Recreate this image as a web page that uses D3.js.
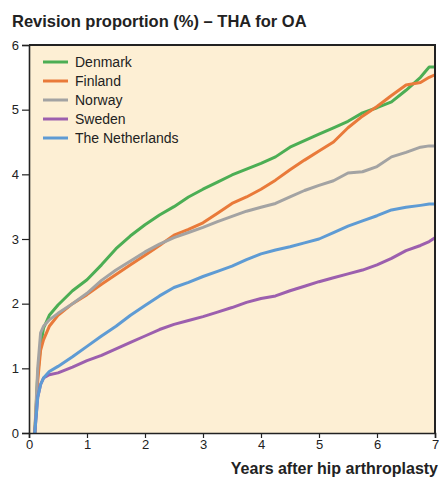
<!DOCTYPE html>
<html><head><meta charset="utf-8">
<script src="https://cdn.jsdelivr.net/npm/d3@7"></script>
<style>
html,body{margin:0;padding:0;background:#fff;}
svg{display:block;font-family:"Liberation Sans",Arial,Helvetica,sans-serif;}
</style></head>
<body>
<svg id="chart" width="439" height="478"></svg>
<script>
const years = [0.1,0.15,0.2,0.25,0.35,0.5,0.75,1,1.25,1.5,1.75,2,2.25,2.5,2.75,3,3.25,3.5,3.75,4,4.25,4.5,4.75,5,5.25,5.5,5.75,6,6.25,6.5,6.75,6.9,7];
const denmark     = [0,0.9,1.35,1.62,1.82,1.98,2.2,2.37,2.6,2.85,3.05,3.22,3.37,3.5,3.65,3.77,3.88,3.99,4.08,4.17,4.27,4.42,4.52,4.62,4.72,4.82,4.95,5.03,5.12,5.3,5.5,5.66,5.66];
const finland     = [0,0.8,1.28,1.44,1.65,1.82,2.0,2.14,2.3,2.45,2.6,2.75,2.9,3.06,3.15,3.25,3.4,3.55,3.65,3.77,3.91,4.07,4.22,4.36,4.5,4.72,4.9,5.05,5.22,5.38,5.42,5.5,5.54];
const norway      = [0,1.0,1.55,1.65,1.75,1.85,2.0,2.16,2.36,2.52,2.66,2.8,2.92,3.02,3.1,3.18,3.27,3.35,3.43,3.49,3.55,3.65,3.75,3.83,3.9,4.02,4.04,4.12,4.27,4.34,4.42,4.44,4.44];
const sweden      = [0,0.55,0.75,0.85,0.9,0.93,1.02,1.12,1.2,1.3,1.4,1.5,1.6,1.68,1.74,1.8,1.87,1.94,2.02,2.08,2.12,2.2,2.27,2.34,2.4,2.46,2.52,2.6,2.7,2.82,2.9,2.96,3.02];
const netherlands = [0,0.55,0.75,0.85,0.95,1.03,1.18,1.34,1.5,1.65,1.82,1.97,2.12,2.25,2.33,2.42,2.5,2.58,2.68,2.77,2.83,2.88,2.94,3.0,3.1,3.2,3.28,3.36,3.45,3.49,3.52,3.54,3.54];
const seriesNames = ["Denmark","Finland","Norway","Sweden","The Netherlands"];
const seriesValues = [denmark, finland, norway, sweden, netherlands];
const seriesColors = ["#4cae54","#e97a3a","#a3a3a3","#9c5fae","#5e9bd4"];
const xTicks = [0,1,2,3,4,5,6,7];
const yTicks = [0,1,2,3,4,5,6];
const titleText = "Revision proportion (%) \u2013 THA for OA";
const xTitle = "Years after hip arthroplasty";

const svg = d3.select("#chart");
const L = 29, R = 435, T = 45, B = 433;
const x = d3.scaleLinear().domain([0,7]).range([L,R]);
const y = d3.scaleLinear().domain([0,6]).range([B,T]);

svg.append("rect").attr("x",L).attr("y",T).attr("width",R-L).attr("height",B-T).attr("fill","#fdefd4");

svg.append("text").attr("x",12).attr("y",26.5).text(titleText)
  .attr("font-size","16.5px").attr("font-weight","bold").attr("fill","#222");

// lines
const line = d3.line().x((d,i)=>x(years[i])).y(d=>y(d)).curve(d3.curveLinear);
seriesValues.forEach((vals,k)=>{
  svg.append("path").datum(vals).attr("d",line).attr("fill","none")
    .attr("stroke",seriesColors[k]).attr("stroke-width",3).attr("stroke-linejoin","round");
});

// frame top/right
svg.append("path").attr("d",`M${L},${T}H${R}V${B}`).attr("fill","none").attr("stroke","#222").attr("stroke-width",2);

// axes
const xAxis = svg.append("g").attr("transform",`translate(0,${B})`)
  .call(d3.axisBottom(x).tickValues(xTicks).tickFormat(d3.format("d")).tickSizeOuter(0).tickSize(5).tickPadding(2));
const yAxis = svg.append("g").attr("transform",`translate(${L},0)`)
  .call(d3.axisLeft(y).tickValues(yTicks).tickFormat(d3.format("d")).tickSizeOuter(0).tickSize(7).tickPadding(3));
[xAxis,yAxis].forEach(g=>{
  g.selectAll("path").attr("stroke","#222").attr("stroke-width",1.6);
  g.selectAll("line").attr("stroke","#222").attr("stroke-width",1.2);
  g.selectAll("text").attr("font-size","13px").attr("fill","#222").attr("font-family","Liberation Sans, Arial, sans-serif");
});

svg.append("text").attr("x",438).attr("y",474).attr("text-anchor","end").text(xTitle)
  .attr("font-size","16px").attr("font-weight","bold").attr("fill","#222");

// legend
const lg = svg.append("g");
seriesNames.forEach((n,i)=>{
  const yy = 62 + i*19;
  lg.append("line").attr("x1",43).attr("x2",68).attr("y1",yy).attr("y2",yy)
    .attr("stroke",seriesColors[i]).attr("stroke-width",3);
  lg.append("text").attr("x",75).attr("y",yy+5).text(n).attr("font-size","14px").attr("fill","#222");
});
</script>
</body></html>
